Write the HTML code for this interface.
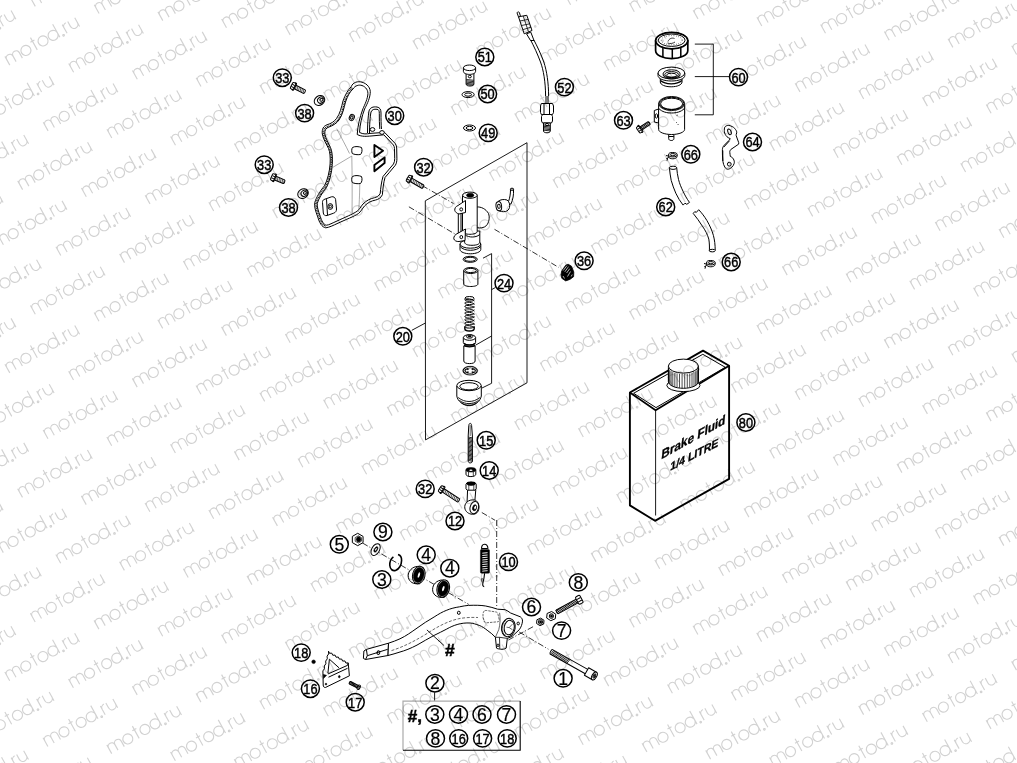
<!DOCTYPE html>
<html><head><meta charset="utf-8"><style>
html,body{margin:0;padding:0;background:#fff;}
svg{display:block;filter:grayscale(1);}
.ct1{font-family:"Liberation Sans",sans-serif;font-size:17.6px;text-anchor:middle;fill:#000;stroke:#000;stroke-width:0.2;}
.cc{fill:#fff;stroke:#000;stroke-width:1.5;}
.ct{font-family:"Liberation Sans",sans-serif;font-size:15.4px;text-anchor:middle;fill:#000;stroke:#000;stroke-width:0.45;}
.ln{fill:none;stroke:#000;stroke-width:0.9;}
.bx{fill:none;stroke:#222;stroke-width:1.1;}
.dd{fill:none;stroke:#000;stroke-width:0.8;stroke-dasharray:6 2 1 2;}
.p{fill:#fff;stroke:#000;stroke-width:1;stroke-linejoin:round;}
.pn{fill:none;stroke:#000;stroke-width:1;stroke-linejoin:round;}
.th{fill:none;stroke:#000;stroke-width:0.85;}
.sp{fill:none;stroke:#000;stroke-width:0.9;}
.pf{fill:#000;stroke:#000;stroke-width:0.6;}
.cantxt{font-family:"Liberation Sans",sans-serif;font-weight:bold;fill:#000;stroke:#000;stroke-width:0.35;}
.hash{font-family:"Liberation Sans",sans-serif;font-weight:bold;fill:#000;stroke:#000;stroke-width:0.5;}
.wf{fill:#fff;stroke:none;}
.wm{fill:none;stroke:#d2d2d2;stroke-width:1.15;}
</style></head><body>
<svg width="1017" height="763" viewBox="0 0 1017 763">
<defs><path id="wm" class="wm" d="M0,0V-10M0,-6.3A3.6,3.6 0 0 1 7.2,-6.3V0M7.2,-6.3A3.6,3.6 0 0 1 14.4,-6.3V0M26.2,-5a5,5 0 1 0 -10,0a5,5 0 1 0 10,0M31.4,-14V0M29.1,-10H33.7M45.8,-5a5,5 0 1 0 -10,0a5,5 0 1 0 10,0M57.3,-5a5,5 0 1 0 -10,0a5,5 0 1 0 10,0M57.3,-15V0M61.5,-0.8a0.8,0.8 0 1 0 0.01,0M65.5,0V-10M65.5,-6A4,4 0 0 1 69.5,-10M71.8,-10V-4.5A4,4 0 0 0 79.8,-4.5M79.8,-10V0"/></defs>
<path class="ln" d="M425.3,200.8L527,142.7V382.8L425.5,439.9Z"/>
<path class="ln" d="M411.8,330.3L425.4,323"/>
<path class="ln" d="M491.6,253.6V383.3M483,258.2L491.6,253.6M491.6,289.6L495.3,287.6M475.5,345.2L491.6,336M482,388L491.6,383.3"/>
<path class="ln" d="M694.8,44.1H713.3V114.8H694.8M694.8,76.6H729.3"/>
<path class="ln" d="M434.6,692.4V700.8"/>
<path d="M403,750.2V701.1H520.2" fill="none" stroke="#aaa" stroke-width="1.2"/><path d="M520.2,701.1V750.2H403" fill="none" stroke="#000" stroke-width="1.1"/>
<path class="dd" d="M422.3,185.7L453.5,203.5"/>
<path class="dd" d="M408.9,206.8L455,234"/>
<path class="dd" d="M494.5,229.3L558.5,267.3"/>
<path class="dd" d="M481.8,512.5L495.1,520.3"/>
<path class="dd" d="M496.7,520V607"/>
<path class="dd" d="M362.5,543L468.7,604.4"/>
<path class="dd" d="M519.2,632L548.4,649.2"/>
<path class="dd" d="M508.4,640L534.4,626"/>
<g transform="translate(291.5,85.2) rotate(26.734564823055056)"><path class="p" d="M3.5,-2.0H14.31588568361113Q15.11588568361113,-2.0 15.11588568361113,0Q15.11588568361113,2.0 14.31588568361113,2.0H3.5Z"/><path class="th" d="M4.50,-2.0l0.9,4M6.20,-2.0l0.9,4M7.90,-2.0l0.9,4M9.60,-2.0l0.9,4M11.30,-2.0l0.9,4M13.00,-2.0l0.9,4" style="stroke-width:0.6"/><rect class="p" x="2.3" y="-4.0" width="1.6" height="8" rx="0.6"/><rect class="p" x="0" y="-3.5" width="3.5" height="7" rx="1.3"/><path class="pn" d="M0.3,-1.1666666666666667H3.2M0.3,1.1666666666666667H3.2"/></g>
<g transform="translate(271.5,176.6) rotate(22.402129591959053)"><path class="p" d="M3.5,-2.0H13.369333082400196Q14.169333082400197,-2.0 14.169333082400197,0Q14.169333082400197,2.0 13.369333082400196,2.0H3.5Z"/><path class="th" d="M4.50,-2.0l0.9,4M6.20,-2.0l0.9,4M7.90,-2.0l0.9,4M9.60,-2.0l0.9,4M11.30,-2.0l0.9,4M13.00,-2.0l0.9,4" style="stroke-width:0.6"/><rect class="p" x="2.3" y="-4.0" width="1.6" height="8" rx="0.6"/><rect class="p" x="0" y="-3.5" width="3.5" height="7" rx="1.3"/><path class="pn" d="M0.3,-1.1666666666666667H3.2M0.3,1.1666666666666667H3.2"/></g>
<ellipse class="p" cx="0" cy="0" rx="5.6" ry="4.6" transform="translate(319.5,100.5) rotate(-35)"/><ellipse class="p" cx="0" cy="0" rx="3.4" ry="2.9" transform="translate(320.8,100.1) rotate(-35)"/><ellipse class="pn" cx="0" cy="0" rx="1.6" ry="1.3" transform="translate(321.4,99.8) rotate(-35)"/>
<ellipse class="p" cx="0" cy="0" rx="5.6" ry="4.6" transform="translate(303.0,193.6) rotate(-35)"/><ellipse class="p" cx="0" cy="0" rx="3.4" ry="2.9" transform="translate(304.3,193.2) rotate(-35)"/><ellipse class="pn" cx="0" cy="0" rx="1.6" ry="1.3" transform="translate(304.9,192.9) rotate(-35)"/>
<g transform="translate(407.5,177.8) rotate(30.054376082874384)"><path class="p" d="M3.5,-1.9H17.569812192834174Q18.369812192834175,-1.9 18.369812192834175,0Q18.369812192834175,1.9 17.569812192834174,1.9H3.5Z"/><path class="th" d="M4.50,-1.9l0.9,3.8M6.30,-1.9l0.9,3.8M8.10,-1.9l0.9,3.8M9.90,-1.9l0.9,3.8M11.70,-1.9l0.9,3.8M13.50,-1.9l0.9,3.8M15.30,-1.9l0.9,3.8M17.10,-1.9l0.9,3.8" style="stroke-width:0.6"/><rect class="p" x="2.3" y="-4.0" width="1.6" height="8" rx="0.6"/><rect class="p" x="0" y="-3.5" width="3.5" height="7" rx="1.3"/><path class="pn" d="M0.3,-1.1666666666666667H3.2M0.3,1.1666666666666667H3.2"/></g>
<g transform="translate(439.8,488.2) rotate(33.06580407494143)"><path class="p" d="M3.5,-1.9H22.110477952238348Q22.91047795223835,-1.9 22.91047795223835,0Q22.91047795223835,1.9 22.110477952238348,1.9H3.5Z"/><path class="th" d="M4.50,-1.9l0.9,3.8M6.30,-1.9l0.9,3.8M8.10,-1.9l0.9,3.8M9.90,-1.9l0.9,3.8M11.70,-1.9l0.9,3.8M13.50,-1.9l0.9,3.8M15.30,-1.9l0.9,3.8M17.10,-1.9l0.9,3.8M18.90,-1.9l0.9,3.8M20.70,-1.9l0.9,3.8" style="stroke-width:0.6"/><rect class="p" x="2.3" y="-4.0" width="1.6" height="8" rx="0.6"/><rect class="p" x="0" y="-3.5" width="3.5" height="7" rx="1.3"/><path class="pn" d="M0.3,-1.1666666666666667H3.2M0.3,1.1666666666666667H3.2"/></g>
<path class="p" d="M351.2,86.7C353,82 358,81 362,82.2C367,83.5 371,88 370.2,93.5C369.5,100 366,106 364.6,109C362,116 360,124 359.5,132.4C363,134.5 367,134 370,133.4L384.6,132.4L395.3,143.6C396.2,145 396.6,146.5 396.7,148L396.9,158.8C396.9,161 396.5,163.5 395.4,165.2L389.4,172.4L385,177.5C383.5,183 382.8,189 382.4,194.7C381,198 378,199.5 375.7,200C371,201 368,202.5 364.6,205.9C362,209 361,211.5 358.5,213.5C354,216.5 346,219.5 338,223.2C333,225.5 329,227.5 325.8,227.8C322,227.5 319,222 317.8,217C315.5,211 314,206 314.8,202.5C316,198 320,191 324.5,185.8C327.5,180 329.5,172 330.1,164C330.5,157 330,152 328.5,148.5C326.5,144 323.5,140 322.3,134C321.8,129 323.5,126 327,124.8C331,123.5 334,122 336.5,118.5C340,114 341.5,107 343,101C345,95 348,90 351.2,86.7Z"/>
<path class="pn" d="M353,89C355,85.5 359,84.5 362,85.5C366,87 368.5,90.5 367.8,95C367,101 363.5,107 362.5,110C360,117 357.8,125 357.2,134.5C362,137 367,136.3 371,136L383.8,134.8L393.4,145C394.1,146 394.4,147.2 394.5,148.5L394.7,158.6C394.7,160.5 394.4,162.5 393.5,164L387.6,171L383,176.5C381.4,182 380.7,188 380.2,193.5C379,196 376.5,197.2 374.5,197.7C370,198.7 366.5,200.5 363,204C360.5,207 359.5,209.5 357,211.3C352.5,214.3 345,217.3 337,221C332.5,223 329,225 326.5,225.2C323.5,224.8 321.5,220.5 320.3,216.5C318.3,211 316.8,206.5 317.3,203.3C318.5,199 322,193 326.5,187.5C329.5,181.5 331.7,173 332.3,164.5C332.7,157 332.2,151.5 330.5,147.5C328.5,143 325.8,139 324.8,134C324.5,130 326,128 329,127C333,125.5 336.5,123.5 339,120C342.5,115 344,108 345.5,102C347.5,96 350,91.5 353,89Z"/>
<path class="pn" d="M352.2,87.8C349.2,91.2 346.6,95.8 344.6,101.8C343.1,107.8 341.6,114.8 338.1,119.6C335.6,123 332.1,125 328.3,126.2C325,127.3 323.3,129.6 323.6,134C324.6,139.2 327.4,143.4 329.4,147.8C331.2,151.8 331.6,157.2 331.2,164.4C330.6,172.8 328.4,181 325.5,187C321,192.5 317.4,198.6 316.1,203C315.6,206.4 317.1,211 319.1,216.7C320.4,220.8 322.5,225.3 325.8,226.2" style="stroke-width:1.5;stroke-dasharray:0.9 0.8"/>
<path d="M336.7,128.7C341,137 346,146 349.5,153.5M332.4,167.6L351.8,156M351.8,156C352.2,175 352.3,195 352,213M359.8,184C359.6,195 359.2,205 358.6,212" fill="none" stroke="#555" style="stroke-width:0.5"/>
<ellipse class="p" cx="0" cy="0" rx="2.4" ry="3.2" transform="translate(351.8,117.5) rotate(25)"/><ellipse class="pn" cx="0" cy="0" rx="1.1" ry="1.7" transform="translate(351.8,117.5) rotate(25)"/>
<path class="p" d="M352.5,147.5C355,146 359,146.5 361.5,147.5C362.5,150 362,153 360.5,154.5C357.5,155 354,154.5 352.3,153.5C351.5,151.5 351.5,149 352.5,147.5Z"/>
<path class="p" d="M352.5,176.5C355,175 359,175.5 361.5,176.5C362.5,179 362,182 360.5,183.5C357.5,184 354,183.5 352.3,182.5C351.5,180.5 351.5,178 352.5,176.5Z"/>
<path class="p" d="M374.4,145L383,150.8L374.4,157Z" style="stroke-width:1.9"/>
<path class="p" d="M374.4,165L384.6,157.4V163L374.4,171.2Z" style="stroke-width:1.9"/>
<path class="pn" d="M367.5,133C367.5,125 368,117 369,111C370,107.5 373,106.5 377,107C380,107.5 381,109.5 381,113C381,119 381,124 381.5,129"/>
<path class="pn" d="M369.5,133C369.5,125 370,117 371,112C372,109.5 374,109 377,109.3C379,109.6 379.3,111 379.3,113.5C379.3,119 379.3,124 379.8,129"/>
<ellipse class="p" cx="372.5" cy="129.5" rx="2.3" ry="1.9"/><ellipse class="p" cx="382" cy="132.5" rx="2.3" ry="1.9"/>
<path class="p" d="M324,199.5L331.5,196.8C333.5,196.3 335.2,197.5 335.6,199.5L336.5,209C336.6,211 335.5,212.6 333.6,213.2L327,215.5C325,216 323.6,215 323.3,213L322.5,202.5C322.4,201 323,200 324,199.5Z"/>
<path class="pn" d="M326.5,199.2L327.5,215"/>
<ellipse class="p" cx="330.3" cy="206.5" rx="2.4" ry="2.9"/><ellipse class="pn" cx="330.3" cy="206.5" rx="1.1" ry="1.4"/>
<path class="p" d="M466.1,72.5V84C466.1,85.5 468,86 470,86C472,86 473.9,85.5 473.9,84V72.5Z"/>
<path class="th" d="M466.3,79.5l7.4,0.8M466.3,80.8l7.4,0.8M466.3,82.1l7.4,0.8M466.3,83.4l7.4,0.8M466.5,84.6l6.8,0.6"/>
<ellipse class="pn" cx="469.8" cy="76.6" rx="1.5" ry="1.3"/>
<path class="p" d="M463.4,67.8V71.4C463.4,73.2 466.2,74.4 469.5,74.4C472.8,74.4 475.6,73.2 475.6,71.4V67.8Z"/>
<ellipse class="p" cx="469.5" cy="67.8" rx="6.1" ry="2.8"/>
<ellipse class="p" cx="468.1" cy="94.6" rx="6.1" ry="3.0"/><ellipse class="p" cx="468.1" cy="94.6" rx="3.4" ry="1.6"/>
<ellipse class="p" cx="469.5" cy="128.0" rx="6.0" ry="3.0"/><ellipse class="p" cx="469.5" cy="128.0" rx="3.4" ry="1.6"/>
<path class="pn" d="M530.6,40C533.8,46 537.5,54 540.5,62C543.5,70 545.5,82 545.6,96M533.9,40C537,46 541,54 543.8,62C546.8,71 548.6,83 548.6,96"/>
<path class="p" d="M526.5,33.8L530.5,40.5H534L530.8,32.2Z"/>
<path class="p" d="M518.5,16.8L526.8,15.3L532,30.5L524.2,33.8Z"/>
<path class="pn" d="M519.8,21L528.2,19.4M521.5,25.5L529.8,23.8M523,29.6L531,27.2M523.2,16L528.5,31.8" style="stroke-width:0.8"/>
<path class="p" d="M517,12.8C517.5,11.8 518.8,11.6 519.4,12.5L520.5,16.4L518.5,16.9Z"/>
<path class="pn" d="M546,96V103M548,96V103"/>
<path class="p" d="M541.3,103.5L552.5,103.5L553.5,106L553.5,112.5L552.5,114.5L541.3,114.5L540.5,112.5L540.5,106Z"/>
<path class="pn" d="M544,104V114M549.5,104V114"/>
<path class="p" d="M542.5,114.5L551.5,114.5L552.5,116.5L552.5,121L551.5,123L542.5,123L541.5,121L541.5,116.5Z"/>
<path class="p" d="M543.5,123H550.3V131C550.3,132.3 548.5,132.8 547,132.8C545.3,132.8 543.5,132.3 543.5,131Z"/>
<path class="th" d="M543.7,125l6.4,0.7M543.7,126.3l6.4,0.7M543.7,127.6l6.4,0.7M543.7,128.9l6.4,0.7M543.7,130.2l6.4,0.7"/>
<ellipse class="pn" cx="547" cy="124.5" rx="1.6" ry="1.1"/>
<path class="p" d="M655.6,40.8V50.5C655.6,55.2 663,58.6 671.7,58.6C680.4,58.6 687.8,55.2 687.8,50.5V40.8Z" style="stroke-width:1.7"/>
<path class="pn" d="M662.9,47.5V57.2M672.3,49V58.4M680.8,47.5V57.2" style="stroke-width:1.5"/>
<ellipse class="p" cx="671.7" cy="40.6" rx="16.1" ry="8.2"/>
<ellipse class="p" cx="671.7" cy="40.6" rx="16.1" ry="8.2" style="fill:none;stroke-width:1.7"/>
<ellipse class="pn" cx="671.7" cy="40.2" rx="13.4" ry="6.2"/>
<ellipse class="pn" cx="671.7" cy="40.2" rx="10.5" ry="4.6" style="stroke-width:0.7;stroke-dasharray:0.8 1.6"/>
<path class="pn" d="M668,41.5C669,38.5 672,37.5 674.5,38.5M667.5,43C670,44 673,43.5 675,42" style="stroke-width:0.8"/>
<path class="p" d="M660.3,76V82C660.3,84.8 665.2,86.8 671.2,86.8C677.2,86.8 682,84.8 682,82V76Z"/>
<path class="pn" d="M660.4,80.5C663,82.8 667,83.8 671.2,83.8C675.4,83.8 679.4,82.8 681.9,80.5" style="stroke-width:1.3"/>
<path class="p" d="M658,73V75.5C658,78.8 664,81 671.4,81C678.8,81 684.8,78.8 684.8,75.5V73Z"/>
<ellipse class="p" cx="671.4" cy="73" rx="13.4" ry="5.9"/>
<ellipse class="pn" cx="671.6" cy="74" rx="8.6" ry="4.2"/><ellipse class="pn" cx="671.6" cy="74.6" rx="6.8" ry="3.0"/><ellipse class="pn" cx="671.6" cy="75.2" rx="5" ry="2.0"/>
<path class="pn" d="M663.2,75C663.5,77.5 667,79 671.6,79C676.2,79 679.7,77.5 680,75" style="stroke-width:0.7"/>
<path class="p" d="M654.3,110.5L658.6,109V123L654.3,122Z"/>
<ellipse class="pn" cx="656.4" cy="116" rx="1.2" ry="2.2"/>
<path class="p" d="M668.7,133V138.5C668.7,140 670,140.5 671.3,140.5C672.6,140.5 673.9,140 673.9,138.5V133Z"/>
<path class="pn" d="M668.8,136.5H673.8"/>
<path class="p" d="M658.6,103.5V129.5C658.6,132 664,134.5 671.6,134.5C679.2,134.5 684.6,132 684.6,129.5V103.5Z"/>
<ellipse class="p" cx="671.6" cy="103.5" rx="13" ry="7.0"/><ellipse class="pn" cx="671.6" cy="103.5" rx="12.2" ry="6.2"/>
<ellipse class="pn" cx="671.6" cy="103.8" rx="11" ry="5.6"/>
<path class="pn" d="M658.8,108.5C662,112 667,113 671.6,113C676,113 681,112 684.4,108.5"/>
<path class="pn" d="M676.5,115.5l1.5,-0.5M676,122.5h1M677.5,124.5h1.2" style="stroke-width:0.6"/>
<g transform="translate(638,130.5) rotate(-33.80488857370003)"><path class="p" d="M3.2,-1.75H13.039797686382558Q13.839797686382559,-1.75 13.839797686382559,0Q13.839797686382559,1.75 13.039797686382558,1.75H3.2Z"/><path class="th" d="M4.20,-1.75l0.9,3.5M5.45,-1.75l0.9,3.5M6.70,-1.75l0.9,3.5M7.95,-1.75l0.9,3.5M9.20,-1.75l0.9,3.5M10.45,-1.75l0.9,3.5M11.70,-1.75l0.9,3.5M12.95,-1.75l0.9,3.5"/><rect class="p" x="2.0" y="-4.0" width="1.6" height="8" rx="0.6"/><rect class="p" x="0" y="-3.5" width="3.2" height="7" rx="1.3"/><path class="pn" d="M0.3,-1.1666666666666667H2.9000000000000004M0.3,1.1666666666666667H2.9000000000000004"/></g>
<path class="p" d="M724.9,126.9C726,125.8 727.5,125.2 728.8,125.4C731,125.8 733.5,127 734.7,128.4C736,130 737,131.5 736.7,132.8C736.3,134 736,135 736.2,135.7L738.7,142.6V144.1L730.8,149.5C730,150.5 729.6,151.5 729.8,152.4C730,154 730.2,155.5 730.3,156.4C731.5,157 732.8,157.8 733.3,158.8C734.3,160.5 734.5,162 734.2,163.3C733.8,165 732.8,166.3 731.8,167.2C730.5,168.5 729,169.2 727.8,169.2C726.5,169.2 725.5,168.3 724.9,167.2C723.8,165.5 723.2,163.5 722.9,161.3C722.5,157 722.3,153 722.4,149.5C722.6,147.5 723.2,146.5 723.9,145.6L728.8,140.6L730.3,138.7C729,138 727.8,137.5 726.9,136.7C725.5,135.2 724.6,133.5 724.4,131.8C724.2,129.8 724.3,128 724.9,126.9Z"/>
<path class="pn" d="M723.9,147L729.5,140.8M722.8,150.5V161" />
<ellipse class="p" cx="0" cy="0" rx="1.6" ry="3.0" transform="translate(729.5,131.8) rotate(-20)"/><ellipse class="p" cx="729.3" cy="164.2" rx="1.9" ry="1.9"/>
<path class="p" d="M668.5,154.7V156.39999999999998C668.5,158.0 670.8,158.79999999999998 672.8,158.79999999999998C674.8,158.79999999999998 677.0999999999999,158.0 677.0999999999999,156.39999999999998V154.7Z"/><ellipse class="p" cx="672.8" cy="154.7" rx="4.3" ry="2.2"/><ellipse class="pn" cx="672.8" cy="154.7" rx="2.6" ry="1.1"/><path class="pn" d="M668.8,156.2L666.0,155.5M668.8,157.39999999999998L666.3,158.7M667.5999999999999,158.2L667.0,160.7"/>
<path class="p" d="M706.5,262.7V264.4C706.5,266.0 708.8,266.8 710.8,266.8C712.8,266.8 715.0999999999999,266.0 715.0999999999999,264.4V262.7Z"/><ellipse class="p" cx="710.8" cy="262.7" rx="4.3" ry="2.2"/><ellipse class="pn" cx="710.8" cy="262.7" rx="2.6" ry="1.1"/><path class="pn" d="M706.8,264.2L704.0,263.5M706.8,265.4L704.3,266.7M705.5999999999999,266.2L705.0,268.7"/>
<path class="p" d="M669.4,167.8C669.8,172 670.3,176 671.2,180.4C672.5,185 674,189 675.8,193.2C677.8,197.5 680.2,201.5 683.1,205.1L685,203.2L686.8,204.3L689.5,202.4C686.8,198.8 684.8,195 683.1,191.4C681,187 679.5,183.5 678.5,179.4C677.6,175.5 677,171.5 676.7,167.8Z"/>
<ellipse class="p" cx="673.05" cy="167.8" rx="3.65" ry="1.6"/>
<path class="p" d="M693.2,213.4L694.8,211.6L696.3,212.4L698.7,209.7C701.8,213 704.5,216.5 707,220.7C709.8,225.5 712,230.5 713.4,235.4C714.6,240 715.2,245 715.2,250.1C713.5,251.6 710.8,251.8 709.4,251C709.5,247 709.5,243 708.8,239.1C707.5,234.5 705.2,230 702.4,226.2C699.5,221.5 696.5,217.5 693.2,213.4Z"/>
<ellipse class="p" cx="712.3" cy="250.6" rx="2.95" ry="1.3"/>
<path class="pf" d="M561.7,271L565.7,265.2L568.1,264.2L571.5,266.2L573.8,272L573.6,276.7L569.9,279.4L565.7,280.9L561.8,278.3L561,274.6Z" style="stroke-width:0.8"/>
<path d="M563.2,270.5L567,265.6M564.8,271.8L568.6,266.6M566.6,273L569.8,268.6M567.5,276.5L570.5,271.5M563,276L564.5,278.5M571.2,276.5L572.2,274.5" fill="none" stroke="#fff" style="stroke-width:0.7"/>
<path class="p" d="M508.5,201.5C509.8,198 510.5,194 510.5,190L513.5,189.8C513.8,194.5 513,199.5 511,204L508.5,204Z"/>
<ellipse class="p" cx="512" cy="189.2" rx="1.7" ry="1"/>
<path class="p" d="M498,201.5C500,199.5 504,199 507,200C509.5,201.5 510,205 509.5,207.5C509,209.5 507.5,211 505.5,211.5C503,212 500,211.5 498.5,210.5Z"/>
<ellipse class="p" cx="0" cy="0" rx="2.8" ry="4.6" transform="translate(498.8,206.2) rotate(-8)"/><ellipse class="pn" cx="0" cy="0" rx="1.3" ry="2.1" transform="translate(498.9,206.3) rotate(-8)"/>
<path class="p" d="M476.5,207C481,206.5 486,209 488.5,213.5C490,217.5 489,222.5 486.5,225.5C484,228 480,228.5 476.5,227.5Z"/>
<path class="p" d="M460,244V249.5C460,252 465,253.8 470.4,253.8C475.8,253.8 480.8,252 480.8,249.5V244Z"/>
<ellipse class="p" cx="470.4" cy="244" rx="10.4" ry="4.2"/>
<path class="pn" d="M460.2,246.5C462,249 466,250.3 470.4,250.3C474.8,250.3 478.8,249 480.6,246.5"/>
<path class="p" d="M464.6,231V242C464.6,244 467,245.3 472,245.3C477,245.3 479.8,244 479.8,242V231Z"/>
<path class="pn" d="M464.6,234.5C467,236.5 470,237 472.2,237C474.5,237 477.5,236.5 479.8,234.5"/>
<path class="p" d="M462.5,195.2V231.5C462.5,233.2 466,234.3 469.9,234.3C473.8,234.3 477.2,233.2 477.2,231.5V195.2Z"/>
<ellipse class="p" cx="469.9" cy="195.2" rx="7.3" ry="3.1"/>
<ellipse class="pf" cx="470.2" cy="195.3" rx="3.6" ry="2.0"/>
<path class="p" d="M458.3,209V233M461,209V233"/>
<path class="p" d="M465.5,200.5L458,205.5C455.5,206.5 454.5,208.5 454.8,210.5C455.2,212 457,213.5 459,214L465.5,212.5Z"/>
<ellipse class="pn" cx="461.2" cy="209.4" rx="1.4" ry="1.6"/>
<path class="p" d="M465.5,229L458,233.2C455,234.5 453.6,236.5 453.8,238.8C454.2,240.5 456.5,241.8 459,241.5L465,240.5Z"/>
<ellipse class="pn" cx="461.3" cy="237.1" rx="1.4" ry="1.6"/>
<ellipse class="p" cx="470.2" cy="259.3" rx="7.1" ry="3.0"/><ellipse class="pn" cx="470.2" cy="259.3" rx="5.6" ry="2.0"/>
<path class="p" d="M463.7,270.5V284C463.7,285.6 467,286.5 470.8,286.5C474.6,286.5 477.9,285.6 477.9,284V270.5Z"/>
<ellipse class="p" cx="470.8" cy="270.5" rx="7.1" ry="3.0"/><ellipse class="pn" cx="470.8" cy="270.5" rx="5.5" ry="2.1"/>
<path class="sp" d="M464.8,299.5C464.8,301.9 474.2,301.9 474.2,299.5M464.8,299.5C464.8,298.1 474.2,298.9 474.2,301.3M464.8,302.9C464.8,305.2 474.2,305.2 474.2,302.9M464.8,302.9C464.8,301.5 474.2,302.2 474.2,304.7M464.8,306.2C464.8,308.6 474.2,308.6 474.2,306.2M464.8,306.2C464.8,304.8 474.2,305.6 474.2,308.0M464.8,309.6C464.8,312.0 474.2,312.0 474.2,309.6M464.8,309.6C464.8,308.2 474.2,309.0 474.2,311.4M464.8,312.9C464.8,315.3 474.2,315.3 474.2,312.9M464.8,312.9C464.8,311.5 474.2,312.3 474.2,314.7M464.8,316.3C464.8,318.7 474.2,318.7 474.2,316.3M464.8,316.3C464.8,314.9 474.2,315.7 474.2,318.1M464.8,319.6C464.8,322.0 474.2,322.0 474.2,319.6M464.8,319.6C464.8,318.2 474.2,319.0 474.2,321.4M464.8,323.0C464.8,325.4 474.2,325.4 474.2,323.0M464.8,323.0C464.8,321.6 474.2,322.4 474.2,324.8M464.8,326.3C464.8,328.7 474.2,328.7 474.2,326.3M464.8,326.3C464.8,324.9 474.2,325.7 474.2,328.1" style="stroke-width:1.0"/>
<path class="pn" d="M464.8,326.5V328.5C464.8,330 467,331 469.5,331C472,331 474.2,330 474.2,328.5V326.5" style="stroke-width:1.4"/>
<ellipse class="pn" cx="469.5" cy="298.2" rx="4.6" ry="1.7"/>
<path class="p" d="M463.8,346V361C463.8,362.8 466.5,363.6 469.5,363.6C472.5,363.6 475.1,362.8 475.1,361V346Z"/>
<path class="p" d="M463.3,337.5V342.5C463.3,344.2 466.2,345.2 469.5,345.2C472.8,345.2 475.6,344.2 475.6,342.5V337.5Z"/>
<path class="pn" d="M464,343.2C466,345.5 473,345.5 475,343.2M464,345.2C466,347.3 473,347.3 475,345.2" style="stroke-width:1.3"/>
<ellipse class="p" cx="469.5" cy="337.5" rx="6.1" ry="2.8"/>
<ellipse class="p" cx="469.6" cy="336.4" rx="3.2" ry="1.8"/><ellipse class="pf" cx="469.6" cy="336.2" rx="1.6" ry="0.9"/>
<path class="pf" fill-rule="evenodd" d="M462.59999999999997,370.7A7.6,4.6 0 1 0 477.8,370.7A7.6,4.6 0 1 0 462.59999999999997,370.7ZM474.80,370.70L474.78,370.95L474.71,371.21L474.60,371.45L474.45,371.69L474.26,371.93L472.30,371.49L472.16,371.61L471.99,371.71L471.81,371.81L471.61,371.89L472.37,372.99L471.96,373.10L471.54,373.19L471.10,373.25L470.65,373.29L470.20,373.30L469.75,373.29L469.30,373.25L468.86,373.19L468.44,373.10L468.03,372.99L468.79,371.89L468.59,371.81L468.41,371.71L468.24,371.61L468.10,371.49L466.14,371.93L465.95,371.69L465.80,371.45L465.69,371.21L465.62,370.95L465.60,370.70L465.62,370.45L465.69,370.19L465.80,369.95L465.95,369.71L466.14,369.47L468.10,369.91L468.24,369.79L468.41,369.69L468.59,369.59L468.79,369.51L468.03,368.41L468.44,368.30L468.86,368.21L469.30,368.15L469.75,368.11L470.20,368.10L470.65,368.11L471.10,368.15L471.54,368.21L471.96,368.30L472.37,368.41L471.61,369.51L471.81,369.59L471.99,369.69L472.16,369.79L472.30,369.91L474.26,369.47L474.45,369.71L474.60,369.95L474.71,370.19L474.78,370.45L474.80,370.70Z" style="stroke-width:0.3"/>
<path class="pn" d="M464.09999999999997,370.7A6.1,3.4 0 1 0 476.3,370.7A6.1,3.4 0 1 0 464.09999999999997,370.7Z" style="stroke:#fff;stroke-width:0.8"/>
<path class="p" d="M456.8,386V396C457.5,401 463,405.5 469,405.7C475,405.8 480.5,401 481.3,396V386Z"/>
<ellipse class="p" cx="469" cy="385.5" rx="12.2" ry="5.2"/>
<ellipse class="pn" cx="469" cy="386.3" rx="9.2" ry="3.6"/>
<path class="pn" d="M458.2,397.5C461.5,400.3 465.5,401.5 469,401.5C472.5,401.5 476.5,400.3 479.8,397.5M459.5,400.5C462.5,402.8 466,403.6 469,403.6C472,403.6 475.5,402.8 478.5,400.5M461.5,402.8C464,404.6 466.5,405.2 469,405.2C471.5,405.2 474,404.6 476.5,402.8" style="stroke-width:0.9"/>
<path class="p" d="M468.8,425.5C469,424 469.6,423.3 470.2,423.3C470.8,423.3 471.4,424 471.6,425.5L472.4,436V461C472.4,462.3 471.4,462.9 470.3,462.9C469.2,462.9 468.2,462.3 468.2,461V436Z"/>
<path class="th" d="M468.3,437.0l4,0.9M468.3,438.3l4,0.9M468.3,439.6l4,0.9M468.3,440.9l4,0.9M468.3,442.2l4,0.9M468.3,443.5l4,0.9M468.3,444.8l4,0.9M468.3,446.1l4,0.9M468.3,447.4l4,0.9M468.3,448.7l4,0.9M468.3,450.0l4,0.9M468.3,451.3l4,0.9M468.3,452.6l4,0.9M468.3,453.9l4,0.9M468.3,455.2l4,0.9M468.3,456.5l4,0.9M468.3,457.8l4,0.9M468.3,459.1l4,0.9M468.3,460.4l4,0.9"/>
<path class="pn" d="M470.2,425V436" style="stroke-width:0.6"/>
<path class="p" d="M466,469.8V474.3C466,475.6 468.2,476.6 470.9,476.6C473.6,476.6 475.8,475.6 475.8,474.3V469.8Z"/>
<path class="pn" d="M468.5,471.5V476.2M473.3,471.5V476.2" style="stroke-width:0.7"/>
<ellipse class="pf" cx="470.9" cy="469.8" rx="4.9" ry="2.2"/>
<ellipse class="wf" cx="470.9" cy="470.3" rx="1.6" ry="0.7"/>
<path class="p" d="M467.6,489.5L467,503.5L474.5,505L475.8,489.5Z"/>
<path class="p" d="M466,484.2L467.2,482.6H475L476.2,484.2V488.8L475,490.2H467.2L466,488.8Z"/>
<ellipse class="pf" cx="471.1" cy="483.6" rx="4.4" ry="1.9"/>
<path class="pn" d="M468.8,485V490M473.8,485V490" style="stroke-width:0.7"/>
<path class="p" d="M466.5,502.5C468.5,500.3 471.5,499.5 474.5,500C477.8,500.8 479.3,504.5 478.9,508.5C478.5,512 476,514.5 472.5,514.3C468.5,514.1 465.3,511.5 464.8,508C464.5,505.8 465.2,503.9 466.5,502.5Z"/>
<ellipse class="p" cx="0" cy="0" rx="4.2" ry="6.2" transform="translate(474.3,507.6) rotate(15)"/><ellipse class="pf" cx="0" cy="0" rx="2.0" ry="3.1" transform="translate(474.6,507.8) rotate(15)"/><ellipse class="wf" cx="0" cy="0" rx="0.9" ry="1.8" transform="translate(475.2,507.6) rotate(15)"/>
<path class="p" d="M629.9,392.5L703,350.6L729.1,365.8V478.9L655,520.8L629.9,505.4Z" style="stroke-width:1.9"/>
<path class="pn" d="M655.6,410.3V515.5" style="stroke-width:0.9"/>
<path class="pn" d="M629.9,392.5L655.6,410.3L729.1,365.8" style="stroke-width:1.8"/>
<path class="pn" d="M633.6,393.3L702.8,354.3L725.3,367.3L656,407.6Z" style="stroke-width:1.0"/>
<ellipse class="p" cx="683.4" cy="385.4" rx="16.6" ry="6.2"/>
<path class="p" d="M668.4,366.1V381.5C668.4,385.3 675.1,388.3 683.4,388.3C691.7,388.3 698.4,385.3 698.4,381.5V366.1Z"/>
<path class="pn" d="M668.46,368.07V382.07M668.91,369.18V383.18M669.81,370.25V384.25M671.11,371.23V385.23M672.79,372.10V386.10M674.80,372.82V386.82M677.06,373.39V387.39M679.52,373.78V387.78M682.09,373.98V387.98M684.71,373.98V387.98M687.28,373.78V387.78M689.74,373.39V387.39M692.00,372.82V386.82M694.01,372.10V386.10M695.69,371.23V385.23M696.99,370.25V384.25M697.89,369.18V383.18M698.34,368.07V382.07" style="stroke-width:0.7"/>
<ellipse class="p" cx="683.4" cy="366.1" rx="15" ry="7.0"/>
<text class="cantxt" transform="matrix(0.872,-0.489,-0.1,0.995,661.0,459.6)" font-size="13.5">Brake Fluid</text>
<text class="cantxt" transform="matrix(0.891,-0.454,-0.1,0.995,670.1,470.7)" font-size="11.8">1/4 LITRE</text>
<path class="p" d="M357.70,533.30L363.07,536.40L363.07,542.60L357.70,545.70L352.33,542.60L352.33,536.40Z"/>
<path class="pn" d="M358.30,535.80L361.42,537.60L361.42,541.20L358.30,543.00L355.18,541.20L355.18,537.60Z" style="stroke-width:0.7"/>
<ellipse class="pf" cx="358.6" cy="539.3" rx="2.2" ry="2.6"/>
<ellipse class="p" cx="0" cy="0" rx="3.9" ry="6.4" transform="translate(375.6,549.6) rotate(30)"/><ellipse class="pf" cx="0" cy="0" rx="1.5" ry="3.0" transform="translate(375.9,549.4) rotate(30)"/><ellipse class="wf" cx="0" cy="0" rx="0.6" ry="1.6" transform="translate(375.9,549.4) rotate(30)"/>
<path class="pn" d="M393.4,556.8C391,558.5 389.6,562 389.8,565.5C390.2,569.5 392.8,571.2 395.5,570.4C399,569.3 401.5,565 401.6,560.5C401.7,557.5 400.3,555 398,554.4" style="stroke-width:1.6"/>
<path class="p" d="M417.8,566.4C412.3,566.6 408.2,571.0 408.2,575.8C408.2,580.5 411.8,583.8 416.8,583.8L419.8,583.8L419.8,566.4Z"/><ellipse class="p" cx="0" cy="0" rx="6.2" ry="8.8" transform="translate(418.8,575.0) rotate(15)"/><ellipse class="pf" cx="0" cy="0" rx="5.2" ry="7.6" transform="translate(418.8,575.0) rotate(15)"/><ellipse class="wf" cx="0" cy="0" rx="1.0" ry="2.8" transform="translate(418.90000000000003,575.0) rotate(18)"/>
<path class="p" d="M442.2,580.0C436.7,580.2 432.59999999999997,584.6 432.59999999999997,589.4C432.59999999999997,594.1 436.2,597.4 441.2,597.4L444.2,597.4L444.2,580.0Z"/><ellipse class="p" cx="0" cy="0" rx="6.2" ry="8.8" transform="translate(443.2,588.6) rotate(15)"/><ellipse class="pf" cx="0" cy="0" rx="5.2" ry="7.6" transform="translate(443.2,588.6) rotate(15)"/><ellipse class="wf" cx="0" cy="0" rx="1.0" ry="2.8" transform="translate(443.3,588.6) rotate(18)"/>
<rect class="pf" x="480.4" y="549.4" width="9.1" height="23.9" rx="1.2" style="stroke-width:0.4"/>
<path d="M482.3,553.2L487.6,552.7M482.3,555.5L487.6,555.0M482.3,557.7L487.6,557.2M482.3,560.0L487.6,559.5M482.3,562.2L487.6,561.7M482.3,564.5L487.6,564.0M482.3,566.7L487.6,566.2M482.3,569.0L487.6,568.5M482.3,571.2L487.6,570.7" fill="none" stroke="#fff" style="stroke-width:0.95"/>
<path class="pn" d="M481.7,549.5C481.2,546.5 482.3,544.2 484.5,544.2C486.5,544.2 487.8,546 488,548.8M482,548.5H487.6" style="stroke-width:1.1"/>
<path class="pn" d="M484.6,573.2C484.3,577 483.6,580.5 482.8,583.5C482.5,585.5 483,586.6 484.2,586.6" style="stroke-width:1.1"/>
<path class="pn" d="M482.3,582.5C481.6,580.8 481.6,579 482.2,578" style="stroke-width:0.9"/>
<path class="p" d="M363.9,651L366.4,649.4L388.5,643.2L388,655.5L365.5,659.5L363.4,658.4Z"/>
<path class="pn" d="M366.4,649.4L367.3,655.7L365.5,659.5M367.3,655.7L387.7,649.3"/>
<ellipse class="pn" cx="0" cy="0" rx="1.4" ry="1.8" transform="translate(378.4,652.6) rotate(20)"/>
<path class="p" d="M388.5,643.2C392.5,641.8 396.5,640.5 400,638.8C406,636 411.5,632 417,628.1C422.5,624.3 428,620.3 434.1,617C438.5,614.2 442.5,611.8 446.8,610.2C450.5,608.6 455,607.5 459.6,606.8C463,606.2 465.5,605.5 468.4,605.4C475,605.1 481,605.2 485.7,606C490,606.8 494,608 497.6,609.2L505.2,609.7C507,610.5 509,611.8 510.6,613L520.3,616.8C521.8,617.8 522.6,619.5 522.5,621.1C522.3,624 521,627.5 519.2,629.8L512,636.5L507.3,638.4L506.2,648.1C504,649.3 502.5,649.5 500.8,649.2C498.8,649 497.2,648.7 496.5,648.1L495.4,637.3C493,634.7 490.5,632.5 487.9,630.8C485,628.5 482.3,626.5 479.2,625.4C476,624.2 473,623.2 470,623C466,622.8 461.5,623.2 457.9,624.3C453.5,625.5 450,627.2 446.8,629C442.5,631.2 438.5,633.3 434.1,635.4C428.5,638.2 423,641.8 417,645.1C411,648.3 404.5,650.8 400,652C396,653.2 392,654.6 388,655.5Z"/>
<path class="pn" d="M391.5,650.6C403,647 415,641 427,633.5C437,627 447,621.5 458.3,618.8C464,617.6 471,617.2 478,617.5" style="stroke-width:0.6;stroke-dasharray:3 1.6"/>
<ellipse class="pn" cx="458.8" cy="612.8" rx="1.4" ry="1.6"/>
<path class="pn" d="M484.5,610.8C483,612 482.8,614 483,616.5L484,621C484.3,622.3 485.3,622.9 486.5,622.8L497.5,621.8C498.7,621.7 499.4,620.8 499.2,619.5L497.8,613.5C497.5,612.5 496.6,612 495.5,611.9L486.5,610.5C485.7,610.4 485,610.5 484.5,610.8Z" style="stroke-width:0.6;stroke-dasharray:2.5 1"/><path class="pn" d="M499.6,612.8C500.5,618 500.2,624 498.8,629.5L495.4,637.3" style="stroke-width:0.6"/>
<path class="pn" d="M495.4,637.3L499.5,637.3L507.3,638.4M499.5,637.3L499.8,648.8" style="stroke-width:0.8"/>
<ellipse class="pn" cx="498" cy="645.3" rx="1.1" ry="1.2"/>
<ellipse class="p" cx="0" cy="0" rx="6.8" ry="9.3" transform="translate(508.4,627.6) rotate(10)"/><ellipse class="pn" cx="0" cy="0" rx="5" ry="7.3" transform="translate(509.2,627.6) rotate(10)"/>
<path class="pn" d="M509.2,627.6L512.3,624.2M509.2,627.6L512.5,629.8M509.2,627.6L506.5,627.2" style="stroke-width:0.6"/>
<path class="pn" d="M504.59,635.80L505.24,634.68M503.74,635.04L504.56,634.03M503.00,634.09L503.97,633.22M502.40,632.98L503.49,632.27M501.95,631.74L503.13,631.21M501.65,630.40L502.90,630.06M501.52,628.99L502.81,628.85M501.56,627.54L502.85,627.61M501.76,626.10L503.04,626.37M502.13,624.69L503.35,625.16M502.66,623.36L503.79,624.01M503.33,622.13L504.34,622.95M504.12,621.03L504.99,622.00M505.01,620.10L505.72,621.19" style="stroke-width:0.8"/>
<ellipse class="pn" cx="518.2" cy="623.5" rx="1.2" ry="1.4"/>
<text class="hash" x="444.9" y="655.9" font-size="17.4">#</text>
<text class="hash" x="407.8" y="721.6" font-size="17">#,</text>
<path class="p" d="M544.02,620.31L543.66,624.06L539.94,625.66L536.58,623.49L536.94,619.74L540.66,618.14Z"/><ellipse class="pn" cx="540.5" cy="621.9" rx="2.1" ry="2.3"/><ellipse class="pf" cx="540.5999999999999" cy="621.9" rx="1.1" ry="1.2"/>
<path class="p" d="M555.73,614.16L555.30,618.74L550.76,620.68L546.67,618.04L547.10,613.46L551.64,611.52Z"/><ellipse class="pn" cx="551.4000000000001" cy="616.1" rx="2.1" ry="2.3"/><ellipse class="pf" cx="551.5" cy="616.1" rx="1.1" ry="1.2"/>
<g transform="translate(581.5,598.6) rotate(151.35730642491052)"><path class="p" d="M5,-2.1H27.57199323276388Q28.37199323276388,-2.1 28.37199323276388,0Q28.37199323276388,2.1 27.57199323276388,2.1H5Z"/><path class="th" d="M6.00,-2.1l0.9,4.2M7.25,-2.1l0.9,4.2M8.50,-2.1l0.9,4.2M9.75,-2.1l0.9,4.2M11.00,-2.1l0.9,4.2M12.25,-2.1l0.9,4.2M13.50,-2.1l0.9,4.2M14.75,-2.1l0.9,4.2M16.00,-2.1l0.9,4.2M17.25,-2.1l0.9,4.2M18.50,-2.1l0.9,4.2M19.75,-2.1l0.9,4.2M21.00,-2.1l0.9,4.2M22.25,-2.1l0.9,4.2M23.50,-2.1l0.9,4.2M24.75,-2.1l0.9,4.2M26.00,-2.1l0.9,4.2M27.25,-2.1l0.9,4.2"/><rect class="p" x="0" y="-4.2" width="5" height="8.4" rx="1.3"/><path class="pn" d="M0.3,-1.4000000000000001H4.7M0.3,1.4000000000000001H4.7"/></g>
<g transform="translate(594.8,676.2) rotate(-150.70)"><path class="p" d="M9,-2.5H49.88Q50.68,-2.5 50.68,0Q50.68,2.5 49.88,2.5H9Z"/><path class="th" d="M30.68,-2.5l-0.9,5M31.93,-2.5l-0.9,5M33.18,-2.5l-0.9,5M34.43,-2.5l-0.9,5M35.68,-2.5l-0.9,5M36.93,-2.5l-0.9,5M38.18,-2.5l-0.9,5M39.43,-2.5l-0.9,5M40.68,-2.5l-0.9,5M41.93,-2.5l-0.9,5M43.18,-2.5l-0.9,5M44.43,-2.5l-0.9,5M45.68,-2.5l-0.9,5M46.93,-2.5l-0.9,5M48.18,-2.5l-0.9,5M49.43,-2.5l-0.9,5" style="stroke-width:0.75"/><path class="p" d="M0.5,-4.3H9.5V4.3H0.5Z"/><ellipse class="p" cx="0.5" cy="0" rx="2.3" ry="4.3"/><ellipse class="p" cx="0.5" cy="0" rx="1.2" ry="2.2"/><ellipse class="pf" cx="0.5" cy="0" rx="0.5" ry="1"/></g>
<path class="p" d="M328.5,651.2L329.48,653.29L331.78,653.15L332.76,655.24L335.07,655.10L336.04,657.19L338.35,657.05L339.33,659.14L341.63,659.00L342.61,661.09L344.92,660.95L345.89,663.04L348.2,662.9L349.4,675.8L325.4,687.5C324,687.6 323.2,686.5 323.2,685L322.9,670.9L324.47,668.68L324.30,665.98L325.87,663.76L325.70,661.05L327.27,658.83L327.10,656.12L328.67,653.91Z"/>
<path class="pn" d="M329.4,659.2L339,667.8M329.4,659.2L327.9,673.3M327.9,674L347.6,665.3M328.5,677.2L347.5,668.3M348.2,662.9L347.6,665.3"/>
<path class="pf" d="M323.3,674.5L326.5,675.3L323.5,678.5Z"/>
<ellipse class="pf" cx="339.3" cy="676.7" rx="0.9" ry="1.1"/><ellipse class="pf" cx="326" cy="684.1" rx="0.8" ry="0.9"/>
<g transform="translate(359.9,687.8) rotate(-152.78388844269261)"><path class="p" d="M2.6,-1.4H11.007201192492644Q11.807201192492645,-1.4 11.807201192492645,0Q11.807201192492645,1.4 11.007201192492644,1.4H2.6Z"/><path class="th" d="M3.00,-1.4l0.9,2.8M4.25,-1.4l0.9,2.8M5.50,-1.4l0.9,2.8M6.75,-1.4l0.9,2.8M8.00,-1.4l0.9,2.8M9.25,-1.4l0.9,2.8M10.50,-1.4l0.9,2.8"/><rect class="p" x="0" y="-2.3" width="2.6" height="4.6" rx="1.3"/><path class="pn" d="M0.3,-0.7666666666666666H2.3000000000000003M0.3,0.7666666666666666H2.3000000000000003"/></g>
<ellipse class="pf" cx="313.6" cy="661.8" rx="1.8" ry="1.8"/>
<path class="ln" d="M426.9,629.9L444.1,645.6"/>
<ellipse cx="282.3" cy="77.7" rx="9.0" ry="8.7" class="cc"/><text transform="translate(282.3,83.10000000000001) scale(0.83,1)" class="ct">33</text>
<ellipse cx="304.6" cy="113.1" rx="9.0" ry="8.7" class="cc"/><text transform="translate(304.6,118.5) scale(0.83,1)" class="ct">38</text>
<ellipse cx="394.7" cy="115.7" rx="9.0" ry="8.7" class="cc"/><text transform="translate(394.7,121.10000000000001) scale(0.83,1)" class="ct">30</text>
<ellipse cx="264.2" cy="164.7" rx="9.0" ry="8.7" class="cc"/><text transform="translate(264.2,170.1) scale(0.83,1)" class="ct">33</text>
<ellipse cx="288.5" cy="207.5" rx="9.0" ry="8.7" class="cc"/><text transform="translate(288.5,212.9) scale(0.83,1)" class="ct">38</text>
<ellipse cx="423.6" cy="167.2" rx="9.0" ry="8.7" class="cc"/><text transform="translate(423.6,172.6) scale(0.83,1)" class="ct">32</text>
<ellipse cx="484.8" cy="57.0" rx="9.0" ry="8.7" class="cc"/><text transform="translate(484.8,62.4) scale(0.83,1)" class="ct">51</text>
<ellipse cx="487.6" cy="94.0" rx="9.0" ry="8.7" class="cc"/><text transform="translate(487.6,99.4) scale(0.83,1)" class="ct">50</text>
<ellipse cx="488.2" cy="132.9" rx="9.0" ry="8.7" class="cc"/><text transform="translate(488.2,138.3) scale(0.83,1)" class="ct">49</text>
<ellipse cx="564.4" cy="87.1" rx="9.0" ry="8.7" class="cc"/><text transform="translate(564.4,92.5) scale(0.83,1)" class="ct">52</text>
<ellipse cx="738.5" cy="77.1" rx="9.0" ry="8.7" class="cc"/><text transform="translate(738.5,82.5) scale(0.83,1)" class="ct">60</text>
<ellipse cx="623.5" cy="120.3" rx="9.0" ry="8.7" class="cc"/><text transform="translate(623.5,125.7) scale(0.83,1)" class="ct">63</text>
<ellipse cx="752.5" cy="142.0" rx="9.0" ry="8.7" class="cc"/><text transform="translate(752.5,147.4) scale(0.83,1)" class="ct">64</text>
<ellipse cx="690.8" cy="154.3" rx="9.0" ry="8.7" class="cc"/><text transform="translate(690.8,159.70000000000002) scale(0.83,1)" class="ct">66</text>
<ellipse cx="665.7" cy="207.0" rx="9.0" ry="8.7" class="cc"/><text transform="translate(665.7,212.4) scale(0.83,1)" class="ct">62</text>
<ellipse cx="731.2" cy="262.0" rx="9.0" ry="8.7" class="cc"/><text transform="translate(731.2,267.4) scale(0.83,1)" class="ct">66</text>
<ellipse cx="584.1" cy="260.8" rx="9.0" ry="8.7" class="cc"/><text transform="translate(584.1,266.2) scale(0.83,1)" class="ct">36</text>
<ellipse cx="504.0" cy="283.1" rx="9.0" ry="8.7" class="cc"/><text transform="translate(504.0,288.5) scale(0.83,1)" class="ct">24</text>
<ellipse cx="402.8" cy="336.3" rx="9.0" ry="8.7" class="cc"/><text transform="translate(402.8,341.7) scale(0.83,1)" class="ct">20</text>
<ellipse cx="745.9" cy="422.5" rx="9.0" ry="8.7" class="cc"/><text transform="translate(745.9,427.9) scale(0.83,1)" class="ct">80</text>
<ellipse cx="486.2" cy="440.3" rx="9.0" ry="8.7" class="cc"/><text transform="translate(486.2,445.7) scale(0.83,1)" class="ct">15</text>
<ellipse cx="489.2" cy="470.5" rx="9.0" ry="8.7" class="cc"/><text transform="translate(489.2,475.9) scale(0.83,1)" class="ct">14</text>
<ellipse cx="425.2" cy="488.9" rx="9.0" ry="8.7" class="cc"/><text transform="translate(425.2,494.29999999999995) scale(0.83,1)" class="ct">32</text>
<ellipse cx="455.0" cy="521.0" rx="9.0" ry="8.7" class="cc"/><text transform="translate(455.0,526.4) scale(0.83,1)" class="ct">12</text>
<ellipse cx="339.3" cy="544.3" rx="9.0" ry="8.7" class="cc"/><text transform="translate(339.3,550.5)" class="ct1">5</text>
<ellipse cx="382.9" cy="532.0" rx="9.0" ry="8.7" class="cc"/><text transform="translate(382.9,538.2)" class="ct1">9</text>
<ellipse cx="381.8" cy="579.5" rx="9.0" ry="8.7" class="cc"/><text transform="translate(381.8,585.7)" class="ct1">3</text>
<ellipse cx="426.2" cy="554.8" rx="9.0" ry="8.7" class="cc"/><text transform="translate(426.2,561.0)" class="ct1">4</text>
<ellipse cx="449.8" cy="568.2" rx="9.0" ry="8.7" class="cc"/><text transform="translate(449.8,574.4000000000001)" class="ct1">4</text>
<ellipse cx="508.5" cy="561.9" rx="9.0" ry="8.7" class="cc"/><text transform="translate(508.5,567.3) scale(0.83,1)" class="ct">10</text>
<ellipse cx="578.3" cy="582.4" rx="9.0" ry="8.7" class="cc"/><text transform="translate(578.3,588.6)" class="ct1">8</text>
<ellipse cx="531.5" cy="607.0" rx="9.0" ry="8.7" class="cc"/><text transform="translate(531.5,613.2)" class="ct1">6</text>
<ellipse cx="561.6" cy="630.6" rx="9.0" ry="8.7" class="cc"/><text transform="translate(561.6,636.8000000000001)" class="ct1">7</text>
<ellipse cx="563.1" cy="678.3" rx="9.0" ry="8.7" class="cc"/><text transform="translate(563.1,684.5)" class="ct1">1</text>
<ellipse cx="434.9" cy="683.2" rx="9.0" ry="8.7" class="cc"/><text transform="translate(434.9,689.4000000000001)" class="ct1">2</text>
<ellipse cx="301.2" cy="652.6" rx="9.0" ry="8.7" class="cc"/><text transform="translate(301.2,658.0) scale(0.83,1)" class="ct">18</text>
<ellipse cx="310.4" cy="688.7" rx="9.0" ry="8.7" class="cc"/><text transform="translate(310.4,694.1) scale(0.83,1)" class="ct">16</text>
<ellipse cx="355.2" cy="702.2" rx="9.0" ry="8.7" class="cc"/><text transform="translate(355.2,707.6) scale(0.83,1)" class="ct">17</text>
<ellipse cx="434.8" cy="714.5" rx="9.0" ry="8.7" class="cc"/><text transform="translate(434.8,720.7)" class="ct1">3</text>
<ellipse cx="458.5" cy="714.5" rx="9.0" ry="8.7" class="cc"/><text transform="translate(458.5,720.7)" class="ct1">4</text>
<ellipse cx="482.0" cy="714.5" rx="9.0" ry="8.7" class="cc"/><text transform="translate(482.0,720.7)" class="ct1">6</text>
<ellipse cx="506.5" cy="714.5" rx="9.0" ry="8.7" class="cc"/><text transform="translate(506.5,720.7)" class="ct1">7</text>
<ellipse cx="435.5" cy="738.4" rx="9.0" ry="8.7" class="cc"/><text transform="translate(435.5,744.6)" class="ct1">8</text>
<ellipse cx="458.7" cy="738.4" rx="9.0" ry="8.7" class="cc"/><text transform="translate(458.7,743.8) scale(0.83,1)" class="ct">16</text>
<ellipse cx="482.6" cy="738.4" rx="9.0" ry="8.7" class="cc"/><text transform="translate(482.6,743.8) scale(0.83,1)" class="ct">17</text>
<ellipse cx="507.2" cy="738.4" rx="9.0" ry="8.7" class="cc"/><text transform="translate(507.2,743.8) scale(0.83,1)" class="ct">18</text>
<g style="mix-blend-mode:multiply"><use href="#wm" transform="translate(-92.1,-7.9) rotate(-29)"/><use href="#wm" transform="translate(-28.4,-0.8) rotate(-29)"/><use href="#wm" transform="translate(-53.9,58.0) rotate(-29)"/><use href="#wm" transform="translate(-79.4,116.7) rotate(-29)"/><use href="#wm" transform="translate(35.3,6.4) rotate(-29)"/><use href="#wm" transform="translate(9.8,65.1) rotate(-29)"/><use href="#wm" transform="translate(-15.7,123.8) rotate(-29)"/><use href="#wm" transform="translate(-41.2,182.5) rotate(-29)"/><use href="#wm" transform="translate(-66.7,241.2) rotate(-29)"/><use href="#wm" transform="translate(-92.2,299.9) rotate(-29)"/><use href="#wm" transform="translate(99.1,13.5) rotate(-29)"/><use href="#wm" transform="translate(73.6,72.2) rotate(-29)"/><use href="#wm" transform="translate(48.1,130.9) rotate(-29)"/><use href="#wm" transform="translate(22.6,189.6) rotate(-29)"/><use href="#wm" transform="translate(-2.9,248.3) rotate(-29)"/><use href="#wm" transform="translate(-28.4,307.1) rotate(-29)"/><use href="#wm" transform="translate(-53.9,365.8) rotate(-29)"/><use href="#wm" transform="translate(-79.4,424.5) rotate(-29)"/><use href="#wm" transform="translate(162.8,20.6) rotate(-29)"/><use href="#wm" transform="translate(137.3,79.3) rotate(-29)"/><use href="#wm" transform="translate(111.8,138.0) rotate(-29)"/><use href="#wm" transform="translate(86.3,196.8) rotate(-29)"/><use href="#wm" transform="translate(60.8,255.5) rotate(-29)"/><use href="#wm" transform="translate(35.3,314.2) rotate(-29)"/><use href="#wm" transform="translate(9.8,372.9) rotate(-29)"/><use href="#wm" transform="translate(-15.7,431.6) rotate(-29)"/><use href="#wm" transform="translate(-41.2,490.3) rotate(-29)"/><use href="#wm" transform="translate(-66.7,549.0) rotate(-29)"/><use href="#wm" transform="translate(-92.2,607.7) rotate(-29)"/><use href="#wm" transform="translate(226.5,27.8) rotate(-29)"/><use href="#wm" transform="translate(201.0,86.5) rotate(-29)"/><use href="#wm" transform="translate(175.5,145.2) rotate(-29)"/><use href="#wm" transform="translate(150.0,203.9) rotate(-29)"/><use href="#wm" transform="translate(124.5,262.6) rotate(-29)"/><use href="#wm" transform="translate(99.0,321.3) rotate(-29)"/><use href="#wm" transform="translate(73.5,380.0) rotate(-29)"/><use href="#wm" transform="translate(48.0,438.7) rotate(-29)"/><use href="#wm" transform="translate(22.5,497.4) rotate(-29)"/><use href="#wm" transform="translate(-3.0,556.1) rotate(-29)"/><use href="#wm" transform="translate(-28.5,614.9) rotate(-29)"/><use href="#wm" transform="translate(-54.0,673.6) rotate(-29)"/><use href="#wm" transform="translate(-79.5,732.3) rotate(-29)"/><use href="#wm" transform="translate(290.2,34.9) rotate(-29)"/><use href="#wm" transform="translate(264.7,93.6) rotate(-29)"/><use href="#wm" transform="translate(239.2,152.3) rotate(-29)"/><use href="#wm" transform="translate(213.7,211.0) rotate(-29)"/><use href="#wm" transform="translate(188.2,269.7) rotate(-29)"/><use href="#wm" transform="translate(162.7,328.4) rotate(-29)"/><use href="#wm" transform="translate(137.2,387.1) rotate(-29)"/><use href="#wm" transform="translate(111.7,445.8) rotate(-29)"/><use href="#wm" transform="translate(86.2,504.6) rotate(-29)"/><use href="#wm" transform="translate(60.7,563.3) rotate(-29)"/><use href="#wm" transform="translate(35.2,622.0) rotate(-29)"/><use href="#wm" transform="translate(9.7,680.7) rotate(-29)"/><use href="#wm" transform="translate(-15.8,739.4) rotate(-29)"/><use href="#wm" transform="translate(-41.3,798.1) rotate(-29)"/><use href="#wm" transform="translate(379.4,-16.7) rotate(-29)"/><use href="#wm" transform="translate(353.9,42.0) rotate(-29)"/><use href="#wm" transform="translate(328.4,100.7) rotate(-29)"/><use href="#wm" transform="translate(302.9,159.4) rotate(-29)"/><use href="#wm" transform="translate(277.4,218.1) rotate(-29)"/><use href="#wm" transform="translate(251.9,276.8) rotate(-29)"/><use href="#wm" transform="translate(226.4,335.6) rotate(-29)"/><use href="#wm" transform="translate(200.9,394.3) rotate(-29)"/><use href="#wm" transform="translate(175.4,453.0) rotate(-29)"/><use href="#wm" transform="translate(149.9,511.7) rotate(-29)"/><use href="#wm" transform="translate(124.4,570.4) rotate(-29)"/><use href="#wm" transform="translate(98.9,629.1) rotate(-29)"/><use href="#wm" transform="translate(73.4,687.8) rotate(-29)"/><use href="#wm" transform="translate(47.9,746.5) rotate(-29)"/><use href="#wm" transform="translate(22.4,805.2) rotate(-29)"/><use href="#wm" transform="translate(443.2,-9.6) rotate(-29)"/><use href="#wm" transform="translate(417.7,49.1) rotate(-29)"/><use href="#wm" transform="translate(392.2,107.8) rotate(-29)"/><use href="#wm" transform="translate(366.7,166.5) rotate(-29)"/><use href="#wm" transform="translate(341.2,225.3) rotate(-29)"/><use href="#wm" transform="translate(315.7,284.0) rotate(-29)"/><use href="#wm" transform="translate(290.2,342.7) rotate(-29)"/><use href="#wm" transform="translate(264.7,401.4) rotate(-29)"/><use href="#wm" transform="translate(239.2,460.1) rotate(-29)"/><use href="#wm" transform="translate(213.7,518.8) rotate(-29)"/><use href="#wm" transform="translate(188.2,577.5) rotate(-29)"/><use href="#wm" transform="translate(162.7,636.2) rotate(-29)"/><use href="#wm" transform="translate(137.2,694.9) rotate(-29)"/><use href="#wm" transform="translate(111.7,753.6) rotate(-29)"/><use href="#wm" transform="translate(86.2,812.4) rotate(-29)"/><use href="#wm" transform="translate(506.9,-2.5) rotate(-29)"/><use href="#wm" transform="translate(481.4,56.2) rotate(-29)"/><use href="#wm" transform="translate(455.9,115.0) rotate(-29)"/><use href="#wm" transform="translate(430.4,173.7) rotate(-29)"/><use href="#wm" transform="translate(404.9,232.4) rotate(-29)"/><use href="#wm" transform="translate(379.4,291.1) rotate(-29)"/><use href="#wm" transform="translate(353.9,349.8) rotate(-29)"/><use href="#wm" transform="translate(328.4,408.5) rotate(-29)"/><use href="#wm" transform="translate(302.9,467.2) rotate(-29)"/><use href="#wm" transform="translate(277.4,525.9) rotate(-29)"/><use href="#wm" transform="translate(251.9,584.6) rotate(-29)"/><use href="#wm" transform="translate(226.4,643.4) rotate(-29)"/><use href="#wm" transform="translate(200.9,702.1) rotate(-29)"/><use href="#wm" transform="translate(175.4,760.8) rotate(-29)"/><use href="#wm" transform="translate(149.9,819.5) rotate(-29)"/><use href="#wm" transform="translate(570.6,4.7) rotate(-29)"/><use href="#wm" transform="translate(545.1,63.4) rotate(-29)"/><use href="#wm" transform="translate(519.6,122.1) rotate(-29)"/><use href="#wm" transform="translate(494.1,180.8) rotate(-29)"/><use href="#wm" transform="translate(468.6,239.5) rotate(-29)"/><use href="#wm" transform="translate(443.1,298.2) rotate(-29)"/><use href="#wm" transform="translate(417.6,356.9) rotate(-29)"/><use href="#wm" transform="translate(392.1,415.6) rotate(-29)"/><use href="#wm" transform="translate(366.6,474.3) rotate(-29)"/><use href="#wm" transform="translate(341.1,533.1) rotate(-29)"/><use href="#wm" transform="translate(315.6,591.8) rotate(-29)"/><use href="#wm" transform="translate(290.1,650.5) rotate(-29)"/><use href="#wm" transform="translate(264.6,709.2) rotate(-29)"/><use href="#wm" transform="translate(239.1,767.9) rotate(-29)"/><use href="#wm" transform="translate(634.3,11.8) rotate(-29)"/><use href="#wm" transform="translate(608.8,70.5) rotate(-29)"/><use href="#wm" transform="translate(583.3,129.2) rotate(-29)"/><use href="#wm" transform="translate(557.8,187.9) rotate(-29)"/><use href="#wm" transform="translate(532.3,246.6) rotate(-29)"/><use href="#wm" transform="translate(506.8,305.3) rotate(-29)"/><use href="#wm" transform="translate(481.3,364.1) rotate(-29)"/><use href="#wm" transform="translate(455.8,422.8) rotate(-29)"/><use href="#wm" transform="translate(430.3,481.5) rotate(-29)"/><use href="#wm" transform="translate(404.8,540.2) rotate(-29)"/><use href="#wm" transform="translate(379.3,598.9) rotate(-29)"/><use href="#wm" transform="translate(353.8,657.6) rotate(-29)"/><use href="#wm" transform="translate(328.3,716.3) rotate(-29)"/><use href="#wm" transform="translate(302.8,775.0) rotate(-29)"/><use href="#wm" transform="translate(698.0,18.9) rotate(-29)"/><use href="#wm" transform="translate(672.5,77.6) rotate(-29)"/><use href="#wm" transform="translate(647.0,136.3) rotate(-29)"/><use href="#wm" transform="translate(621.5,195.0) rotate(-29)"/><use href="#wm" transform="translate(596.0,253.8) rotate(-29)"/><use href="#wm" transform="translate(570.5,312.5) rotate(-29)"/><use href="#wm" transform="translate(545.0,371.2) rotate(-29)"/><use href="#wm" transform="translate(519.5,429.9) rotate(-29)"/><use href="#wm" transform="translate(494.0,488.6) rotate(-29)"/><use href="#wm" transform="translate(468.5,547.3) rotate(-29)"/><use href="#wm" transform="translate(443.0,606.0) rotate(-29)"/><use href="#wm" transform="translate(417.5,664.7) rotate(-29)"/><use href="#wm" transform="translate(392.0,723.4) rotate(-29)"/><use href="#wm" transform="translate(366.5,782.1) rotate(-29)"/><use href="#wm" transform="translate(761.8,26.0) rotate(-29)"/><use href="#wm" transform="translate(736.3,84.8) rotate(-29)"/><use href="#wm" transform="translate(710.8,143.5) rotate(-29)"/><use href="#wm" transform="translate(685.3,202.2) rotate(-29)"/><use href="#wm" transform="translate(659.8,260.9) rotate(-29)"/><use href="#wm" transform="translate(634.3,319.6) rotate(-29)"/><use href="#wm" transform="translate(608.8,378.3) rotate(-29)"/><use href="#wm" transform="translate(583.3,437.0) rotate(-29)"/><use href="#wm" transform="translate(557.8,495.7) rotate(-29)"/><use href="#wm" transform="translate(532.3,554.4) rotate(-29)"/><use href="#wm" transform="translate(506.8,613.1) rotate(-29)"/><use href="#wm" transform="translate(481.3,671.9) rotate(-29)"/><use href="#wm" transform="translate(455.8,730.6) rotate(-29)"/><use href="#wm" transform="translate(430.3,789.3) rotate(-29)"/><use href="#wm" transform="translate(825.5,33.2) rotate(-29)"/><use href="#wm" transform="translate(800.0,91.9) rotate(-29)"/><use href="#wm" transform="translate(774.5,150.6) rotate(-29)"/><use href="#wm" transform="translate(749.0,209.3) rotate(-29)"/><use href="#wm" transform="translate(723.5,268.0) rotate(-29)"/><use href="#wm" transform="translate(698.0,326.7) rotate(-29)"/><use href="#wm" transform="translate(672.5,385.4) rotate(-29)"/><use href="#wm" transform="translate(647.0,444.1) rotate(-29)"/><use href="#wm" transform="translate(621.5,502.8) rotate(-29)"/><use href="#wm" transform="translate(596.0,561.6) rotate(-29)"/><use href="#wm" transform="translate(570.5,620.3) rotate(-29)"/><use href="#wm" transform="translate(545.0,679.0) rotate(-29)"/><use href="#wm" transform="translate(519.5,737.7) rotate(-29)"/><use href="#wm" transform="translate(494.0,796.4) rotate(-29)"/><use href="#wm" transform="translate(914.7,-18.4) rotate(-29)"/><use href="#wm" transform="translate(889.2,40.3) rotate(-29)"/><use href="#wm" transform="translate(863.7,99.0) rotate(-29)"/><use href="#wm" transform="translate(838.2,157.7) rotate(-29)"/><use href="#wm" transform="translate(812.7,216.4) rotate(-29)"/><use href="#wm" transform="translate(787.2,275.1) rotate(-29)"/><use href="#wm" transform="translate(761.7,333.8) rotate(-29)"/><use href="#wm" transform="translate(736.2,392.6) rotate(-29)"/><use href="#wm" transform="translate(710.7,451.3) rotate(-29)"/><use href="#wm" transform="translate(685.2,510.0) rotate(-29)"/><use href="#wm" transform="translate(659.7,568.7) rotate(-29)"/><use href="#wm" transform="translate(634.2,627.4) rotate(-29)"/><use href="#wm" transform="translate(608.7,686.1) rotate(-29)"/><use href="#wm" transform="translate(583.2,744.8) rotate(-29)"/><use href="#wm" transform="translate(557.7,803.5) rotate(-29)"/><use href="#wm" transform="translate(978.4,-11.3) rotate(-29)"/><use href="#wm" transform="translate(952.9,47.4) rotate(-29)"/><use href="#wm" transform="translate(927.4,106.1) rotate(-29)"/><use href="#wm" transform="translate(901.9,164.8) rotate(-29)"/><use href="#wm" transform="translate(876.4,223.5) rotate(-29)"/><use href="#wm" transform="translate(850.9,282.3) rotate(-29)"/><use href="#wm" transform="translate(825.4,341.0) rotate(-29)"/><use href="#wm" transform="translate(799.9,399.7) rotate(-29)"/><use href="#wm" transform="translate(774.4,458.4) rotate(-29)"/><use href="#wm" transform="translate(748.9,517.1) rotate(-29)"/><use href="#wm" transform="translate(723.4,575.8) rotate(-29)"/><use href="#wm" transform="translate(697.9,634.5) rotate(-29)"/><use href="#wm" transform="translate(672.4,693.2) rotate(-29)"/><use href="#wm" transform="translate(646.9,751.9) rotate(-29)"/><use href="#wm" transform="translate(621.4,810.6) rotate(-29)"/><use href="#wm" transform="translate(1016.6,54.5) rotate(-29)"/><use href="#wm" transform="translate(991.1,113.2) rotate(-29)"/><use href="#wm" transform="translate(965.6,172.0) rotate(-29)"/><use href="#wm" transform="translate(940.1,230.7) rotate(-29)"/><use href="#wm" transform="translate(914.6,289.4) rotate(-29)"/><use href="#wm" transform="translate(889.1,348.1) rotate(-29)"/><use href="#wm" transform="translate(863.6,406.8) rotate(-29)"/><use href="#wm" transform="translate(838.1,465.5) rotate(-29)"/><use href="#wm" transform="translate(812.6,524.2) rotate(-29)"/><use href="#wm" transform="translate(787.1,582.9) rotate(-29)"/><use href="#wm" transform="translate(761.6,641.6) rotate(-29)"/><use href="#wm" transform="translate(736.1,700.4) rotate(-29)"/><use href="#wm" transform="translate(710.6,759.1) rotate(-29)"/><use href="#wm" transform="translate(685.1,817.8) rotate(-29)"/><use href="#wm" transform="translate(1029.4,179.1) rotate(-29)"/><use href="#wm" transform="translate(1003.9,237.8) rotate(-29)"/><use href="#wm" transform="translate(978.4,296.5) rotate(-29)"/><use href="#wm" transform="translate(952.9,355.2) rotate(-29)"/><use href="#wm" transform="translate(927.4,413.9) rotate(-29)"/><use href="#wm" transform="translate(901.9,472.6) rotate(-29)"/><use href="#wm" transform="translate(876.4,531.3) rotate(-29)"/><use href="#wm" transform="translate(850.9,590.1) rotate(-29)"/><use href="#wm" transform="translate(825.4,648.8) rotate(-29)"/><use href="#wm" transform="translate(799.9,707.5) rotate(-29)"/><use href="#wm" transform="translate(774.4,766.2) rotate(-29)"/><use href="#wm" transform="translate(1016.6,362.3) rotate(-29)"/><use href="#wm" transform="translate(991.1,421.1) rotate(-29)"/><use href="#wm" transform="translate(965.6,479.8) rotate(-29)"/><use href="#wm" transform="translate(940.1,538.5) rotate(-29)"/><use href="#wm" transform="translate(914.6,597.2) rotate(-29)"/><use href="#wm" transform="translate(889.1,655.9) rotate(-29)"/><use href="#wm" transform="translate(863.6,714.6) rotate(-29)"/><use href="#wm" transform="translate(838.1,773.3) rotate(-29)"/><use href="#wm" transform="translate(1029.3,486.9) rotate(-29)"/><use href="#wm" transform="translate(1003.8,545.6) rotate(-29)"/><use href="#wm" transform="translate(978.3,604.3) rotate(-29)"/><use href="#wm" transform="translate(952.8,663.0) rotate(-29)"/><use href="#wm" transform="translate(927.3,721.7) rotate(-29)"/><use href="#wm" transform="translate(901.8,780.4) rotate(-29)"/><use href="#wm" transform="translate(1016.5,670.1) rotate(-29)"/><use href="#wm" transform="translate(991.0,728.9) rotate(-29)"/><use href="#wm" transform="translate(965.5,787.6) rotate(-29)"/><use href="#wm" transform="translate(1029.2,794.7) rotate(-29)"/></g>
</svg>
</body></html>
